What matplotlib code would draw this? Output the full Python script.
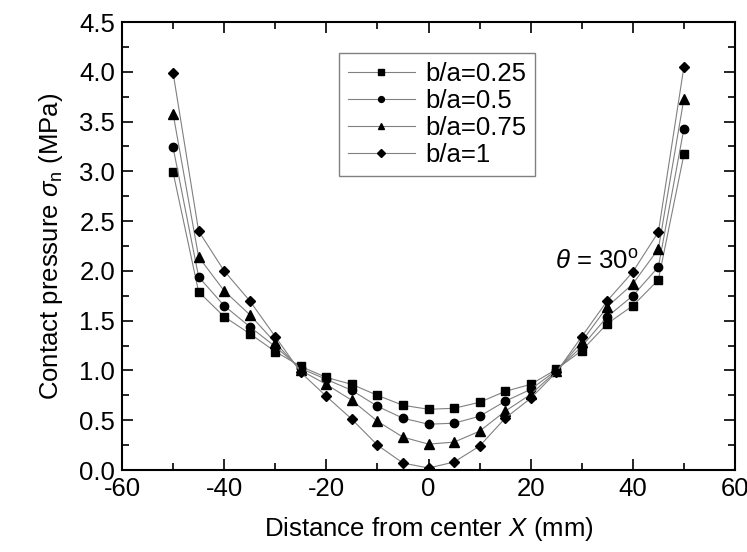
import matplotlib
matplotlib.use("Agg")
import matplotlib.pyplot as plt
from matplotlib.ticker import MultipleLocator

plt.rcParams['font.family'] = ['Liberation Sans', 'DejaVu Sans']
plt.rcParams['mathtext.fontset'] = 'custom'
plt.rcParams['mathtext.rm'] = 'Liberation Sans'
plt.rcParams['mathtext.it'] = 'Liberation Sans:italic'
plt.rcParams['axes.unicode_minus'] = False

x = [-50, -45, -40, -35, -30, -25, -20, -15, -10, -5, 0, 5, 10, 15, 20, 25, 30, 35, 40, 45, 50]
ba_025 = [2.99, 1.79, 1.54, 1.37, 1.19, 1.04, 0.93, 0.86, 0.75, 0.65, 0.61, 0.62, 0.68, 0.79, 0.86, 1.01, 1.20, 1.47, 1.65, 1.91, 3.17]
ba_050 = [3.24, 1.94, 1.65, 1.44, 1.24, 1.02, 0.91, 0.80, 0.64, 0.52, 0.46, 0.47, 0.54, 0.69, 0.81, 1.00, 1.24, 1.54, 1.75, 2.04, 3.43]
ba_075 = [3.58, 2.14, 1.80, 1.56, 1.28, 1.00, 0.86, 0.70, 0.49, 0.33, 0.26, 0.28, 0.39, 0.59, 0.76, 0.99, 1.29, 1.64, 1.87, 2.22, 3.73]
ba_100 = [3.99, 2.40, 2.00, 1.70, 1.34, 0.98, 0.74, 0.51, 0.25, 0.07, 0.02, 0.08, 0.24, 0.52, 0.72, 0.98, 1.34, 1.70, 1.99, 2.39, 4.05]
labels = ['b/a=0.25', 'b/a=0.5', 'b/a=0.75', 'b/a=1']
series = [ba_025, ba_050, ba_075, ba_100]
markers = ['s', 'o', '^', 'D']
msizes = [5.5, 6, 6.5, 5.5]

FS = 18.5
fig = plt.figure(figsize=(7.47, 5.52), dpi=100)
ax = fig.add_axes([122/747, 82/552, 613/747, 448/552])

for ys, lab, m, ms in zip(series, labels, markers, msizes):
    ax.plot(x, ys, color='#808080', lw=0.8, marker=m, ms=ms,
            mfc='black', mec='black', label=lab)

ax.set_xlim(-60, 60)
ax.set_ylim(0, 4.5)
ax.xaxis.set_major_locator(MultipleLocator(20))
ax.xaxis.set_minor_locator(MultipleLocator(10))
ax.yaxis.set_major_locator(MultipleLocator(0.5))
ax.yaxis.set_minor_locator(MultipleLocator(0.25))
ax.yaxis.set_major_formatter(matplotlib.ticker.FormatStrFormatter('%.1f'))
ax.tick_params(which='both', direction='in', top=True, right=True, labelsize=FS, width=1.2)
ax.tick_params(which='major', length=8, pad=5)
ax.tick_params(which='minor', length=5)
for s in ax.spines.values():
    s.set_linewidth(1.5)

ax.set_xlabel('Distance from center $X$ (mm)', fontsize=FS, labelpad=10)
ax.set_ylabel(r'Contact pressure $\sigma_{\mathrm{n}}$ (MPa)', fontsize=FS, labelpad=10)

ax.text(24.8, 2.09, r'$\theta$ = 30$^{\mathrm{o}}$', fontsize=FS, ha='left', va='center')

leg = ax.legend(loc='upper left', bbox_to_anchor=(0.354, 0.931), borderaxespad=0,
                fontsize=FS, fancybox=False, edgecolor='#808080', framealpha=1,
                handlelength=2.6, labelspacing=0.12, markerscale=0.7,
                borderpad=0.35, handletextpad=0.4)
leg.get_frame().set_linewidth(1.0)

fig.savefig('out.png', dpi=100)
